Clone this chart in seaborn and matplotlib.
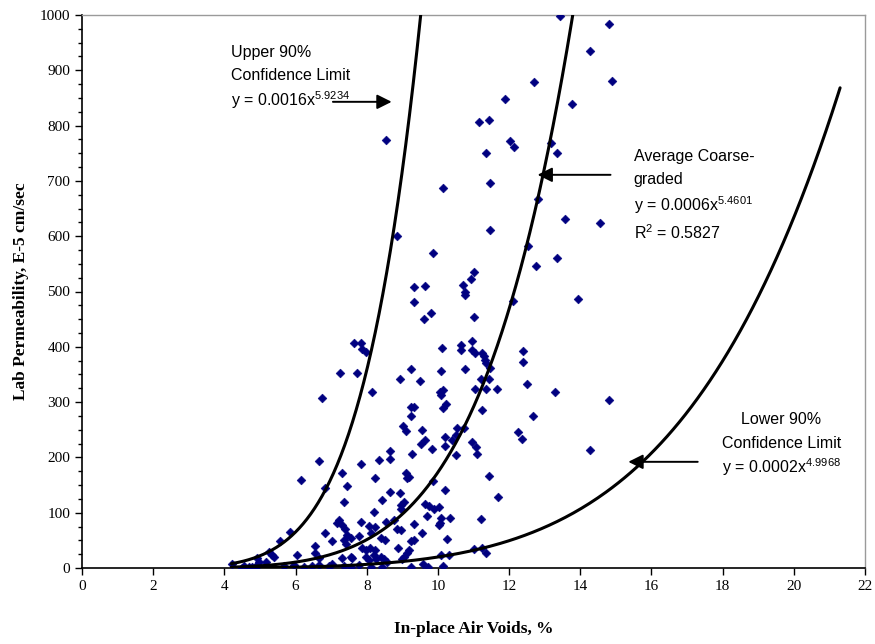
import numpy as np
import pandas as pd
import matplotlib
matplotlib.use("Agg")
import matplotlib.pyplot as plt
from matplotlib.ticker import MultipleLocator
import seaborn as sns

# ---- data ----
air_voids = [
    13.44, 14.80, 14.27, 12.71, 14.89, 13.78, 13.17, 13.36, 12.81, 13.58, 14.55, 12.52,
    13.34, 12.75, 13.94, 12.40, 12.40, 12.51, 13.29, 14.80, 12.67, 12.35, 12.24, 14.27,
    11.88, 11.16, 11.44, 12.03, 12.14, 11.35, 11.45, 10.15, 11.45, 9.85, 11.01, 10.92,
    10.71, 10.75, 10.77, 12.11,
    8.55, 8.85, 9.34, 9.64, 9.34,
    7.64, 7.83, 7.88, 7.97, 7.25, 7.74, 8.15, 6.74, 8.93, 9.23, 9.23, 9.23, 9.02, 9.11,
    9.81, 9.60, 11.02, 10.95, 10.11, 10.64, 10.66, 10.97, 11.05, 11.25, 11.30, 11.32,
    11.35, 10.09, 10.76, 11.47, 9.50, 11.22, 11.44, 10.13, 10.06, 10.09, 11.05, 11.36,
    11.65, 10.22, 10.13, 9.34, 11.25, 9.56, 10.55, 10.72, 10.19, 10.39, 10.50, 9.64,
    9.52, 10.97,
    10.19, 11.06, 11.09, 8.64, 8.64, 8.35, 9.26, 9.82, 10.50, 8.24, 9.09, 9.19, 9.14,
    9.87, 11.43, 10.20, 8.66, 8.94, 8.44, 11.68, 9.05, 8.95, 8.95, 9.63, 9.75, 9.89,
    10.03, 8.20, 9.68, 10.10, 10.06, 10.34, 11.20, 8.53, 8.77, 8.84, 9.33, 10.03, 8.24,
    8.05, 8.95, 9.54, 8.39, 8.50, 10.25, 9.24, 9.33, 8.88, 8.09, 8.22, 9.19, 9.14, 11.02,
    11.25, 11.36, 9.05, 9.00, 10.10, 10.31, 8.39, 8.49, 8.56, 8.20, 8.25, 8.07, 8.11,
    8.44, 9.24, 9.59, 9.73, 10.14,
    6.66, 7.83, 6.14, 7.31, 7.45, 6.84, 7.36, 7.22, 7.17, 7.31, 7.40, 7.45, 7.83, 6.84,
    5.84, 5.56, 7.03, 7.36, 7.41, 7.78, 7.55, 6.56, 7.88, 7.97, 6.05, 6.56, 6.66, 5.25,
    5.34, 5.39, 7.31, 7.55, 7.59, 7.97, 4.92, 5.16, 4.22, 4.55, 4.78, 4.92, 5.67, 5.95,
    6.24, 6.47, 6.66, 6.94, 7.03, 7.36, 7.55, 7.78, 8.11, 4.50, 4.69, 4.88, 4.97,
]
permeability = [
    998, 983, 934, 879, 881, 839, 768, 751, 667, 632, 623, 582,
    560, 546, 486, 392, 372, 333, 318, 303, 274, 233, 246, 213,
    848, 806, 811, 773, 761, 750, 697, 687, 611, 569, 535, 522,
    511, 500, 494, 483,
    774, 600, 508, 510, 481,
    406, 406, 396, 390, 353, 353, 318, 308, 342, 359, 292, 274, 256, 248,
    462, 450, 453, 411, 398, 403, 394, 394, 388, 388, 383, 376,
    370, 356, 359, 362, 339, 342, 341, 322, 318, 313, 324, 323,
    324, 296, 290, 291, 286, 250, 253, 254, 236, 231, 240, 231,
    224, 228,
    221, 219, 207, 212, 197, 195, 206, 215, 204, 162, 171, 165, 162,
    158, 166, 141, 137, 136, 123, 129, 120, 114, 106, 116, 112, 107,
    111, 102, 94, 90, 81, 90, 88, 84, 87, 70, 79, 78, 74,
    76, 69, 63, 54, 51, 52, 48, 51, 37, 36, 33, 33, 27, 34,
    36, 27, 20, 16, 24, 24, 20, 16, 11, 24, 16, 14, 2,
    1, 1, 8, 1, 4,
    194, 188, 160, 172, 148, 144, 119, 87, 82, 78, 71, 60, 84, 63,
    65, 49, 48, 51, 43, 57, 54, 40, 37, 33, 24, 27, 18, 29,
    24, 19, 18, 20, 18, 20, 18, 11, 7, 4, 2, 5, 3, 5,
    2, 4, 6, 3, 8, 3, 2, 5, 63, 0, 1, 1, 11,
]

# trendline equations shown on the chart: y = a * x^b
curve_names = ["upper", "average", "lower"]
curve_coef = [0.0016, 0.0006, 0.0002]
curve_exp = [5.9234, 5.4601, 4.9968]
curve_xmin = [4.2, 4.2, 4.2]
curve_xmax = [9.52, 13.95, 21.3]

x_ticks = list(range(0, 23, 2))
y_ticks = list(range(0, 1001, 100))

# ---- figure ----
sns.set_theme(style="white")
plt.rcParams["font.family"] = ["Liberation Serif", "DejaVu Serif"]
plt.rcParams.update({
    "text.color": "black",
    "axes.labelcolor": "black",
    "xtick.color": "black",
    "ytick.color": "black",
    "mathtext.fontset": "custom",
    "mathtext.rm": "Liberation Sans",
    "mathtext.it": "Liberation Sans:italic",
    "mathtext.bf": "Liberation Sans:bold",
})

fig = plt.figure(figsize=(8.75, 6.44), dpi=100)
ax = fig.add_axes([82 / 875, (644 - 568) / 644, (865 - 82) / 875, (568 - 15) / 644])

df = pd.DataFrame({"voids": air_voids, "perm": permeability})
sns.scatterplot(data=df, x="voids", y="perm", marker="D", s=20, color="#000080",
                edgecolor="#000080", linewidth=0.4, ax=ax, zorder=3)

for name, a, b, x0, x1 in zip(curve_names, curve_coef, curve_exp, curve_xmin, curve_xmax):
    xs = np.linspace(x0, x1, 300)
    cdf = pd.DataFrame({"x": xs, "y": a * xs ** b})
    sns.lineplot(data=cdf, x="x", y="y", color="black", lw=2.2, ax=ax, zorder=4,
                 estimator=None, sort=False)

ax.set_xlim(0, 22)
ax.set_ylim(0, 1000)
ax.set_xticks(x_ticks)
ax.set_yticks(y_ticks)
ax.yaxis.set_minor_locator(MultipleLocator(25))
ax.tick_params(axis="both", which="major", direction="out", length=5, width=1,
               color="black", labelcolor="black", labelsize=11, bottom=True, left=True)
ax.tick_params(axis="y", which="minor", direction="out", length=3, width=1,
               color="black", left=True)
for lab in ax.get_xticklabels() + ax.get_yticklabels():
    lab.set_fontfamily("Liberation Serif")

for side in ["left", "bottom"]:
    ax.spines[side].set_color("black")
    ax.spines[side].set_linewidth(1.2)
for side in ["top", "right"]:
    ax.spines[side].set_color("#9a9a9a")
    ax.spines[side].set_linewidth(1.0)

ax.set_xlabel("In-place Air Voids, %", fontsize=12.5, fontweight="bold",
              fontfamily="Liberation Serif", labelpad=20, color="black")
ax.set_ylabel("Lab Permeability, E-5 cm/sec", fontsize=12.5, fontweight="bold",
              fontfamily="Liberation Serif", labelpad=8, color="black")

sans = "Liberation Sans"
fs = 11.5
arrow = dict(arrowstyle="-|>", color="black", lw=1.4, mutation_scale=22, shrinkA=0, shrinkB=0)
tkw = dict(fontsize=fs, fontfamily=sans, va="center", color="black")

# Upper 90% label
ax.text(4.2, 933, "Upper 90%", ha="left", **tkw)
ax.text(4.2, 891, "Confidence Limit", ha="left", **tkw)
ax.text(4.2, 846, r"y = 0.0016x$^{5.9234}$", ha="left", **tkw)
ax.annotate("", xy=(8.7, 843), xytext=(7.05, 843), arrowprops=arrow)

# Average label
ax.text(15.5, 745, "Average Coarse-", ha="left", **tkw)
ax.text(15.5, 703, "graded", ha="left", **tkw)
ax.text(15.5, 656, r"y = 0.0006x$^{5.4601}$", ha="left", **tkw)
ax.text(15.5, 606, r"R$^{2}$ = 0.5827", ha="left", **tkw)
ax.annotate("", xy=(12.8, 711), xytext=(14.85, 711), arrowprops=arrow)

# Lower 90% label
ax.text(19.65, 268, "Lower 90%", ha="center", **tkw)
ax.text(19.65, 226, "Confidence Limit", ha="center", **tkw)
ax.text(19.65, 183, r"y = 0.0002x$^{4.9968}$", ha="center", **tkw)
ax.annotate("", xy=(15.35, 192), xytext=(17.3, 192), arrowprops=arrow)

fig.savefig("out.png", dpi=100)
